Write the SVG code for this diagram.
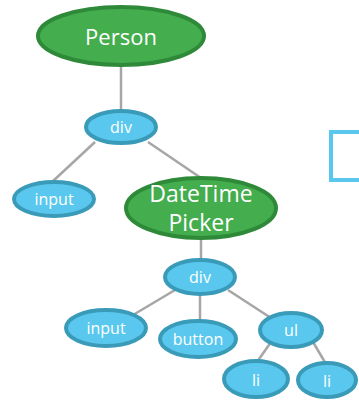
<svg xmlns="http://www.w3.org/2000/svg" width="359" height="400" viewBox="0 0 359 400">
  <style>
    .edge { stroke: #a6a6a6; stroke-width: 2.5; fill: none; }
    .green { fill: #44ad4e; stroke: #2e8a39; stroke-width: 4; }
    .blue { fill: #5ac8ee; stroke: #3a9bb9; stroke-width: 4; }
    .lbl { fill: #ffffff; font-family: "Open Sans", "DejaVu Sans", sans-serif; text-anchor: middle; dominant-baseline: central; }
    .big { font-size: 22px; }
    .dtp { font-size: 23px; }
    .small { font-size: 16px; }
  </style>
  <rect width="359" height="400" fill="#ffffff"/>
  <g id="connectors">
    <line class="edge" x1="121" y1="66" x2="121" y2="111"/>
    <line class="edge" x1="95" y1="142" x2="52" y2="182"/>
    <line class="edge" x1="148" y1="142" x2="201" y2="178"/>
    <line class="edge" x1="201" y1="238" x2="201" y2="261"/>
    <line class="edge" x1="175" y1="290" x2="133" y2="315"/>
    <line class="edge" x1="200" y1="295" x2="200" y2="321"/>
    <line class="edge" x1="228" y1="290" x2="271" y2="318"/>
    <line class="edge" x1="271" y1="342" x2="257" y2="362"/>
    <line class="edge" x1="313" y1="342" x2="326" y2="364"/>
  </g>
  <g id="person">
    <ellipse class="green" cx="121" cy="36" rx="83" ry="29"/>
    <text class="lbl big" x="121" y="36">Person</text>
  </g>
  <g id="div-outer">
    <ellipse class="blue" cx="121" cy="127" rx="35" ry="16"/>
    <text class="lbl small" x="121" y="127">div</text>
  </g>
  <g id="input-outer">
    <ellipse class="blue" cx="54" cy="199" rx="40" ry="17"/>
    <text class="lbl small" x="54" y="199">input</text>
  </g>
  <g id="datetimepicker">
    <ellipse class="green" cx="201" cy="208" rx="75" ry="30"/>
    <text class="lbl dtp" x="201" y="193">DateTime</text>
    <text class="lbl dtp" x="201" y="222">Picker</text>
  </g>
  <g id="div-inner">
    <ellipse class="blue" cx="200" cy="277" rx="35" ry="17"/>
    <text class="lbl small" x="200" y="277">div</text>
  </g>
  <g id="input-inner">
    <ellipse class="blue" cx="106" cy="328" rx="40" ry="18"/>
    <text class="lbl small" x="106" y="328">input</text>
  </g>
  <g id="button">
    <ellipse class="blue" cx="198" cy="339" rx="38" ry="18"/>
    <text class="lbl small" x="198" y="339">button</text>
  </g>
  <g id="ul">
    <ellipse class="blue" cx="291" cy="330" rx="31" ry="17"/>
    <text class="lbl small" x="291" y="330">ul</text>
  </g>
  <g id="li-1">
    <ellipse class="blue" cx="256" cy="379" rx="32" ry="18"/>
    <text class="lbl small" x="256" y="380">li</text>
  </g>
  <g id="li-2">
    <ellipse class="blue" cx="327" cy="380" rx="29" ry="17"/>
    <text class="lbl small" x="327" y="381">li</text>
  </g>
  <g id="box">
    <rect x="331" y="132" width="40" height="48" fill="none" stroke="#5ac8ee" stroke-width="4"/>
  </g>
</svg>
